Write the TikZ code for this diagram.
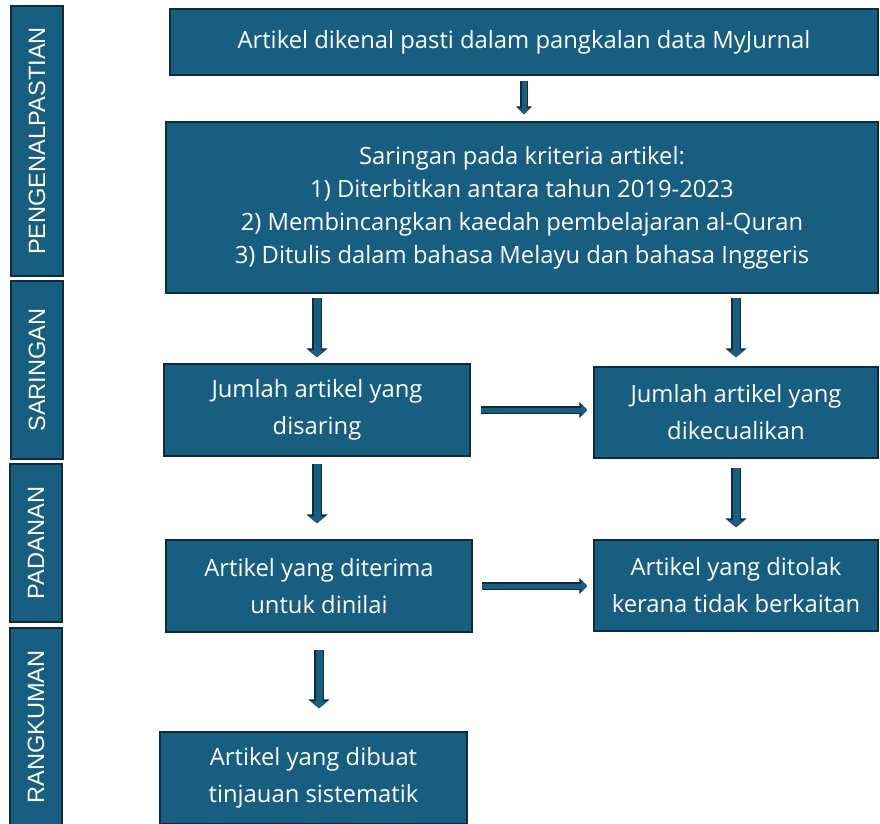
\documentclass[tikz,border=0pt]{standalone}
\usepackage{fontspec}
\setmainfont{Open Sans}
\newfontfamily\stagefont{Liberation Sans}
\usetikzlibrary{arrows.meta, positioning, calc}
\definecolor{boxblue}{RGB}{23, 94, 128}
\definecolor{edgeblue}{RGB}{14, 44, 60}

\tikzset{
  flowbox/.style={draw=edgeblue, fill=boxblue, line width=1.5pt, text=white,
    align=center, inner sep=0pt, font=\fontsize{23.8}{37}\selectfont},
  stagebox/.style={draw=edgeblue, fill=boxblue, line width=1.5pt, text=white,
    rotate=90, inner sep=0pt, minimum height=52pt,
    font=\stagefont\fontsize{23.6}{23.6}\selectfont},
  bigarrow/.style={draw=boxblue, line width=7pt, -{Triangle[width=17pt,length=7pt]},
    preaction={draw=edgeblue, line width=10pt, -{Triangle[width=21pt,length=9pt]}}},
  thinarrow/.style={draw=boxblue, line width=5pt, -{Triangle[width=12pt,length=6pt]},
    preaction={draw=edgeblue, line width=8pt, -{Triangle[width=16pt,length=8pt]}}}
}

\begin{document}
\begin{tikzpicture}[x=1pt, y=-1pt]
  \useasboundingbox (0,0) rectangle (880,823);

  % Stage labels
  \node[stagebox, minimum width=270pt] (stage1) at (37,141) {PENGENALPASTIAN};
  \node[stagebox, minimum width=178pt] (stage2) at (37,370) {SARINGAN};
  \node[stagebox, minimum width=158pt] (stage3) at (36,543) {PADANAN};
  \node[stagebox, minimum width=198pt] (stage4) at (36,727) {RANGKUMAN};

  % Flow boxes
  \node[flowbox, minimum width=708pt, minimum height=66pt] (ident) at (524,42)
    {Artikel dikenal pasti dalam pangkalan data MyJurnal};
  \node[flowbox, minimum width=712pt, minimum height=171pt, font=\fontsize{23.8}{33}\selectfont] (criteria) at (522,207.5)
    {Saringan pada kriteria artikel:\\
     1) Diterbitkan antara tahun 2019-2023\\
     2) Membincangkan kaedah pembelajaran al-Quran\\
     3) Ditulis dalam bahasa Melayu dan bahasa Inggeris};
  \node[flowbox, minimum width=306pt, minimum height=92pt] (screened) at (317,410)
    {Jumlah artikel yang\\disaring};
  \node[flowbox, minimum width=284pt, minimum height=91pt] (excluded) at (736,412.5)
    {Jumlah artikel yang\\dikecualikan};
  \node[flowbox, minimum width=306pt, minimum height=92pt] (accepted) at (319,586)
    {Artikel yang diterima\\untuk dinilai};
  \node[flowbox, minimum width=284pt, minimum height=91pt] (rejected) at (736,585.5)
    {Artikel yang ditolak\\kerana tidak berkaitan};
  \node[flowbox, minimum width=307pt, minimum height=92pt] (review) at (313.5,778)
    {Artikel yang dibuat\\tinjauan sistematik};

  % Connectors
  \draw[thinarrow, shorten <=5pt, shorten >=7pt] (ident.south) -- (ident.south |- criteria.north);
  \draw[bigarrow, shorten <=4pt, shorten >=6pt] (criteria.south -| screened.north) -- (screened.north);
  \draw[bigarrow, shorten <=4pt, shorten >=9pt] (criteria.south -| excluded.north) -- (excluded.north);
  \draw[thinarrow, shorten <=10pt, shorten >=6pt] (screened.east) -- (screened.east -| excluded.west);
  \draw[bigarrow, shorten <=7pt, shorten >=16pt] (screened.south) -- (screened.south |- accepted.north);
  \draw[bigarrow, shorten <=9pt, shorten >=12pt] (excluded.south) -- (excluded.south |- rejected.north);
  \draw[thinarrow, shorten <=9pt, shorten >=6pt] (accepted.east) -- (accepted.east -| rejected.west);
  \draw[bigarrow, shorten <=17pt, shorten >=23pt] (accepted.south) -- (accepted.south |- review.north);
\end{tikzpicture}
\end{document}
